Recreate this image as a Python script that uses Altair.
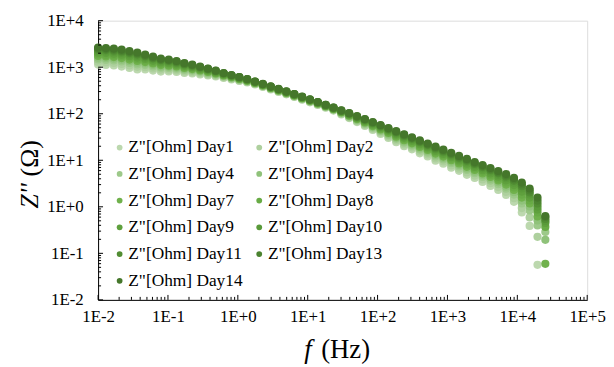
import altair as alt
import pandas as pd

freq = [0.0100, 0.01295, 0.01679, 0.02173, 0.02812, 0.03642, 0.04721, 0.06109, 0.07907, 0.1026,
        0.1327, 0.1718, 0.2228, 0.2884, 0.3733, 0.4831, 0.6266, 0.8110, 1.050, 1.361,
        1.762, 2.280, 2.958, 3.828, 4.955, 6.427, 8.318, 10.77, 13.93, 18.07,
        23.39, 30.27, 39.26, 50.82, 65.77, 85.31, 110.4, 142.9, 184.9, 239.9,
        310.5, 401.8, 521.2, 674.5, 873.0, 1132, 1466, 1897, 2455, 3184,
        4121, 5333, 6918, 8954, 11590, 15000, 19450, 25180]

day1 = [1140, 1120, 1090, 1030, 961, 896, 894, 847, 806, 807, 790, 752, 731, 699, 664, 633, 588, 546, 506, 469,
        426, 377, 333, 294, 261, 229, 201, 176, 154, 135, 117, 96.8, 80.5, 66.2, 54.6, 44.8, 36.7, 30.1, 24.5, 20.0,
        17.2, 14.1, 12.1, 9.82, 8.47, 6.93, 5.93, 4.87, 4.16, 3.42, 2.81, 2.30, 1.79, 1.28, 0.755, 0.389, 0.0567, None]
day2 = [1300, 1270, 1230, 1170, 1090, 1020, 997, 940, 889, 883, 857, 809, 782, 741, 699, 661, 610, 564, 521, 482,
        436, 386, 341, 301, 267, 234, 206, 180, 158, 138, 120, 99.7, 83.5, 69.2, 57.4, 47.5, 39.3, 32.4, 26.6, 21.9,
        18.8, 15.5, 13.3, 10.9, 9.40, 7.73, 6.61, 5.48, 4.68, 3.87, 3.21, 2.65, 2.09, 1.53, 0.940, 0.591, 0.226, None]
day4 = [1470, 1430, 1400, 1330, 1230, 1150, 1110, 1040, 976, 965, 930, 871, 836, 786, 736, 690, 632, 584, 537, 494,
        446, 394, 348, 308, 272, 239, 210, 184, 161, 141, 123, 103, 86.6, 72.3, 60.5, 50.4, 42.0, 34.8, 28.9, 23.9,
        20.6, 17.0, 14.6, 12.1, 10.4, 8.64, 7.39, 6.17, 5.27, 4.39, 3.66, 3.05, 2.44, 1.83, 1.18, 0.835, 0.398, 0.288]
day4b = [1600, 1560, 1520, 1450, 1340, 1250, 1200, 1120, 1040, 1020, 981, 916, 873, 817, 763, 711, 649, 596, 547, 503,
         453, 400, 354, 312, 277, 243, 213, 187, 164, 143, 125, 105, 88.9, 74.5, 62.7, 52.4, 43.9, 36.7, 30.4, 25.4,
         21.8, 18.2, 15.6, 13.0, 11.2, 9.29, 7.95, 6.68, 5.70, 4.77, 4.00, 3.35, 2.71, 2.06, 1.36, 1.02, 0.509, 0.195]
day7 = [1740, 1700, 1650, 1570, 1460, 1360, 1290, 1200, 1110, 1080, 1040, 962, 912, 849, 789, 733, 664, 609, 559, 511,
        459, 406, 359, 317, 281, 246, 216, 190, 166, 145, 126, 107, 90.9, 76.7, 64.8, 54.4, 45.8, 38.5, 32.2, 26.9,
        23.1, 19.4, 16.6, 13.9, 12.0, 10.0, 8.56, 7.22, 6.17, 5.19, 4.37, 3.67, 3.00, 2.31, 1.58, 1.18, 0.619, 0.0596]
day8 = [1890, 1840, 1790, 1710, 1590, 1480, 1390, 1280, 1180, 1150, 1090, 1010, 955, 885, 817, 755, 681, 624, 571, 521,
        465, 412, 364, 321, 284, 250, 219, 192, 169, 147, 128, 109, 93.3, 79.0, 67.2, 56.8, 48.0, 40.3, 34.0, 28.6,
        24.5, 20.7, 17.7, 14.9, 12.8, 10.8, 9.24, 7.81, 6.67, 5.64, 4.77, 4.03, 3.33, 2.60, 1.83, 1.37, 0.755, 0.369]
day9 = [2050, 2010, 1950, 1860, 1730, 1610, 1500, 1370, 1260, 1220, 1150, 1060, 998, 920, 846, 778, 699, 637, 581, 529,
        473, 418, 369, 326, 289, 254, 223, 195, 171, 149, 130, 111, 95.7, 81.4, 69.5, 59.0, 50.1, 42.5, 35.8, 30.3,
        26.1, 22.1, 18.9, 15.9, 13.7, 11.6, 9.94, 8.44, 7.21, 6.14, 5.22, 4.43, 3.69, 2.93, 2.12, 1.58, 0.874, 0.450]
day10 = [2230, 2180, 2120, 2020, 1880, 1750, 1610, 1470, 1340, 1300, 1220, 1110, 1040, 957, 875, 800, 717, 652, 594, 539,
         480, 424, 375, 331, 293, 257, 226, 198, 174, 151, 132, 114, 98.2, 83.7, 71.9, 61.4, 52.4, 44.6, 37.9, 32.2,
         27.6, 23.5, 20.1, 17.1, 14.7, 12.5, 10.7, 9.15, 7.81, 6.67, 5.71, 4.87, 4.10, 3.30, 2.47, 1.84, 1.01, 0.497]
day11 = [2390, 2330, 2270, 2160, 2010, 1870, 1710, 1550, 1420, 1360, 1270, 1160, 1080, 986, 900, 820, 730, 663, 603, 546,
         485, 429, 379, 335, 297, 260, 229, 200, 176, 153, 134, 115, 100, 85.9, 73.9, 63.3, 54.3, 46.3, 39.5, 33.7,
         29.0, 24.8, 21.2, 18.0, 15.5, 13.3, 11.3, 9.74, 8.32, 7.13, 6.12, 5.24, 4.45, 3.62, 2.77, 2.03, 1.18, 0.548]
day13 = [2510, 2450, 2390, 2270, 2110, 1970, 1790, 1620, 1470, 1410, 1320, 1190, 1110, 1010, 918, 834, 741, 671, 610, 552,
         490, 433, 383, 338, 299, 263, 231, 202, 177, 155, 135, 117, 102, 87.3, 75.5, 64.9, 55.8, 47.8, 40.8, 35.0,
         30.0, 25.7, 22.0, 18.8, 16.2, 13.9, 11.9, 10.2, 8.71, 7.50, 6.46, 5.55, 4.74, 3.89, 3.03, 2.24, 1.36, 0.605]
day14 = [2640, 2580, 2510, 2390, 2220, 2070, 1870, 1690, 1530, 1460, 1360, 1230, 1140, 1035, 938, 849, 752, 681, 617, 558,
         494, 437, 386, 341, 302, 265, 233, 204, 179, 156, 136, 118, 103, 88.9, 77.1, 66.4, 57.3, 49.2, 42.2, 36.2,
         31.1, 26.7, 22.9, 19.6, 16.9, 14.5, 12.4, 10.7, 9.14, 7.89, 6.81, 5.87, 5.04, 4.18, 3.31, 2.47, 1.58, 0.635]

series_names = ['Z"[Ohm] Day1', 'Z"[Ohm] Day2', 'Z"[Ohm] Day4', 'Z"[Ohm] Day4 ', 'Z"[Ohm] Day7',
                'Z"[Ohm] Day8', 'Z"[Ohm] Day9', 'Z"[Ohm] Day10', 'Z"[Ohm] Day11', 'Z"[Ohm] Day13',
                'Z"[Ohm] Day14']
series_values = [day1, day2, day4, day4b, day7, day8, day9, day10, day11, day13, day14]
colors = ["#bcd8ae", "#aed09e", "#9dc98a", "#8fc27a", "#70b14c", "#68ab45",
          "#5fa03d", "#599a39", "#518d33", "#4b8330", "#45772b"]

x_major = [1e-2, 1e-1, 1e0, 1e1, 1e2, 1e3, 1e4, 1e5]
y_major = [1e-2, 1e-1, 1e0, 1e1, 1e2, 1e3, 1e4]
x_minor = [m * d for d in x_major[:-1] for m in range(2, 10)]
y_minor = [m * d for d in y_major[:-1] for m in range(2, 10)]

rows = []
for name, vals in zip(series_names, series_values):
    for f, z in zip(freq, vals):
        if z is not None:
            rows.append({"f": f, "z": z, "series": name})
df = pd.DataFrame(rows)

W, H = 494, 282
FONT = "Liberation Serif"
xscale = alt.Scale(type="log", domain=[1e-2, 1e5], nice=False)
yscale = alt.Scale(type="log", domain=[1e-2, 1e4], nice=False)
lab = "'1E' + (round(log(datum.value)/LN10) >= 0 ? '+' : '') + round(log(datum.value)/LN10)"

xaxis = alt.Axis(values=x_major, labelExpr=lab, title=None, ticks=False, grid=False,
                 domainColor="black", labelFont=FONT, labelFontSize=17, labelColor="black",
                 labelPadding=9, labelFlush=False, labelOverlap=False)
yaxis = alt.Axis(values=y_major, labelExpr=lab, title=None, ticks=False, grid=False,
                 domainColor="black", labelFont=FONT, labelFontSize=17, labelColor="black",
                 labelPadding=15, labelFlush=False, labelOverlap=False)

points = alt.Chart(df).mark_point(filled=True, shape="circle", size=68, opacity=1).encode(
    x=alt.X("f:Q", scale=xscale, axis=xaxis),
    y=alt.Y("z:Q", scale=yscale, axis=yaxis),
    color=alt.Color("series:N", sort=series_names,
                    scale=alt.Scale(domain=series_names, range=colors),
                    legend=alt.Legend(title=None, orient="none", legendX=13, legendY=119, columns=2,
                                      direction="horizontal",
                                      symbolType="circle", symbolSize=34, symbolStrokeWidth=0,
                                      symbolOpacity=1, labelFont=FONT, labelFontSize=17.5,
                                      labelColor="black", rowPadding=8, columnPadding=7,
                                      labelOffset=0, padding=0, labelLimit=300)),
)

xmin_t = alt.Chart(pd.DataFrame({"f": x_minor})).mark_rule(color="black", strokeWidth=1).encode(
    x=alt.X("f:Q", scale=xscale, axis=xaxis), y=alt.value(H), y2=alt.value(H - 3))
xmaj_t = alt.Chart(pd.DataFrame({"f": x_major})).mark_rule(color="black", strokeWidth=1).encode(
    x=alt.X("f:Q", scale=xscale, axis=xaxis), y=alt.value(H), y2=alt.value(H - 5))
ymin_t = alt.Chart(pd.DataFrame({"z": y_minor})).mark_rule(color="black", strokeWidth=1).encode(
    y=alt.Y("z:Q", scale=yscale, axis=yaxis), x=alt.value(0), x2=alt.value(3))
ymaj_t = alt.Chart(pd.DataFrame({"z": y_major})).mark_rule(color="black", strokeWidth=1).encode(
    y=alt.Y("z:Q", scale=yscale, axis=yaxis), x=alt.value(0), x2=alt.value(5))

one = pd.DataFrame({"a": [0]})
xt_f = alt.Chart(one).mark_text(text="f", font=FONT, fontStyle="italic", fontSize=27,
                                align="center", baseline="alphabetic", color="black").encode(
    x=alt.value(212), y=alt.value(341))
xt_hz = alt.Chart(one).mark_text(text="(Hz)", font=FONT, fontSize=27,
                                 align="center", baseline="alphabetic", color="black").encode(
    x=alt.value(250), y=alt.value(341))
yt_z = alt.Chart(one).mark_text(text="Z''", font=FONT, fontStyle="italic", fontSize=26, angle=270,
                                align="center", baseline="middle", color="black").encode(
    x=alt.value(-69), y=alt.value(177))
yt_o = alt.Chart(one).mark_text(text="(Ω)", font=FONT, fontSize=26, angle=270,
                                align="center", baseline="middle", color="black").encode(
    x=alt.value(-69), y=alt.value(139))

chart = alt.layer(points, xmin_t, xmaj_t, ymin_t, ymaj_t, xt_f, xt_hz, yt_z, yt_o).properties(
    width=W, height=H,
    padding={"left": 91, "top": 11, "right": 19, "bottom": 66},
    autosize=alt.AutoSizeParams(type="none"),
).configure_view(stroke="black", strokeWidth=1).configure(background="white")

chart.save("out.html", embed_options={"renderer": "svg", "actions": False})
